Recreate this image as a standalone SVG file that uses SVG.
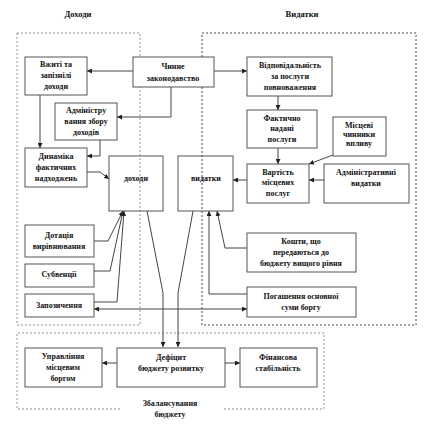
<svg xmlns="http://www.w3.org/2000/svg" width="428" height="427" viewBox="0 0 428 427">
<style>
.bg{fill:#fff}
.box{fill:#fff;stroke:#555;stroke-width:1}
.open{fill:none;stroke:#555;stroke-width:1}
.reg{fill:none;stroke:#888;stroke-width:0.9;stroke-dasharray:2,2}
.regd{fill:none;stroke:#333;stroke-width:0.9;stroke-dasharray:2,2}
.c{fill:none;stroke:#444;stroke-width:1}
text{font-family:"Liberation Serif","Times New Roman",serif;font-weight:bold;font-size:8px;fill:#111;text-anchor:middle}
.t{font-size:8.5px}
</style>
<defs>
<marker id="ah" viewBox="0 0 10 10" refX="10" refY="5" markerWidth="5" markerHeight="5" orient="auto" markerUnits="userSpaceOnUse">
<path d="M0,0 L10,5 L0,10 z" fill="#222"/>
</marker>
<marker id="as" viewBox="0 0 10 10" refX="0" refY="5" markerWidth="5" markerHeight="5" orient="auto" markerUnits="userSpaceOnUse">
<path d="M10,0 L0,5 L10,10 z" fill="#222"/>
</marker>
</defs>
<rect class="bg" x="0" y="0" width="428" height="427"/>
<g id="titles">
<text class="t" x="78" y="17">Доходи</text>
<text class="t" x="302" y="17">Видатки</text>
</g>
<g id="regions">
<rect class="reg" x="17" y="33" width="123" height="292"/>
<rect class="regd" x="202" y="33" width="214" height="292"/>
<path class="reg" d="M120,409 L17,409 L17,333 L324,333 L324,409 L223,409"/>
</g>
<g id="connectors">
<path class="c" d="M133,71 L87,71" marker-end="url(#ah)"/>
<path class="c" d="M214,71 L247,71" marker-end="url(#ah)"/>
<path class="c" d="M171,87 L171,117 L117,117" marker-end="url(#ah)"/>
<path class="c" d="M40,95 L40,148" marker-end="url(#ah)"/>
<path class="c" d="M100,140 L100,156 L87,156" marker-end="url(#ah)"/>
<path class="c" d="M87,172 L100,172 L109,179" marker-end="url(#ah)"/>
<path class="c" d="M278,96 L278,110" marker-end="url(#ah)"/>
<path class="c" d="M278,148 L278,164" marker-end="url(#ah)"/>
<path class="c" d="M333,155 L309,164" marker-end="url(#ah)"/>
<path class="c" d="M324,180 L309,180" marker-end="url(#ah)"/>
<path class="c" d="M247,180 L233,180" marker-end="url(#ah)"/>
<path class="c" d="M247,248 L225,248 L217,211" marker-end="url(#ah)"/>
<path class="c" d="M247,294 L209,294 L209,211" marker-end="url(#ah)"/>
<path class="c" d="M94,241 L108,241 L123,211" marker-end="url(#ah)"/>
<path class="c" d="M94,271 L110,271 L123,211" marker-end="url(#ah)"/>
<path class="c" d="M94,302 L117,302 L124,211" marker-end="url(#ah)"/>
<path class="c" d="M94,309 L247,309" marker-start="url(#as)" marker-end="url(#ah)"/>
<path class="c" d="M147,211 L163,293 L163,347" marker-end="url(#ah)"/>
<path class="c" d="M193,211 L178,293 L178,347" marker-end="url(#ah)"/>
<path class="c" d="M117,363 L102,363" marker-end="url(#ah)"/>
<path class="c" d="M225,363 L240,363" marker-end="url(#ah)"/>
</g>
<g id="n-chynne"><rect class="box" x="133" y="57" width="81" height="30"/><text x="173" y="69">Чинне</text><text x="173" y="81">законодавство</text></g>
<g id="n-vzhiti"><rect class="box" x="25" y="57" width="62" height="38"/><text x="56" y="67">Вжиті та</text><text x="56" y="78">запізнілі</text><text x="56" y="89">доходи</text></g>
<g id="n-admin"><rect class="box" x="55" y="103" width="62" height="37"/><text x="86" y="113">Адміністру</text><text x="86" y="124">вання збору</text><text x="86" y="135">доходів</text></g>
<g id="n-dynamika"><rect class="box" x="25" y="148" width="62" height="39"/><text x="56" y="159">Динаміка</text><text x="56" y="170">фактичних</text><text x="56" y="181">надходжень</text></g>
<g id="n-dokhody"><rect class="open" x="109" y="156" width="54" height="55"/><text x="136" y="181">доходи</text></g>
<g id="n-vydatky"><rect class="open" x="178" y="156" width="55" height="55"/><text x="206" y="181">видатки</text></g>
<g id="n-dotatsiia"><rect class="box" x="25" y="225" width="69" height="32"/><text x="59" y="238">Дотація</text><text x="59" y="249">вирівнювання</text></g>
<g id="n-subventsii"><rect class="box" x="25" y="264" width="69" height="23"/><text x="59" y="277">Субвенції</text></g>
<g id="n-zapozychennia"><rect class="box" x="25" y="294" width="69" height="23"/><text x="59" y="308">Запозичення</text></g>
<g id="n-vidpovidalnist"><rect class="box" x="247" y="57" width="85" height="39"/><text x="290" y="68">Відповідальність</text><text x="290" y="79">за послуги</text><text x="290" y="90">повноваження</text></g>
<g id="n-faktychno"><rect class="box" x="247" y="110" width="70" height="38"/><text x="282" y="121">Фактично</text><text x="282" y="131">надані</text><text x="282" y="142">послуги</text></g>
<g id="n-mistsevi"><rect class="box" x="333" y="117" width="53" height="39"/><text x="359" y="128">Місцеві</text><text x="359" y="137">чинники</text><text x="359" y="146">впливу</text></g>
<g id="n-vartist"><rect class="box" x="247" y="164" width="62" height="39"/><text x="278" y="175">Вартість</text><text x="278" y="185">місцевих</text><text x="278" y="196">послуг</text></g>
<g id="n-admvydatky"><rect class="box" x="324" y="164" width="85" height="39"/><text x="366" y="175">Адміністративні</text><text x="366" y="186">видатки</text></g>
<g id="n-koshty"><rect class="box" x="247" y="233" width="109" height="39"/><text x="301" y="244">Кошти, що</text><text x="301" y="255">передаються до</text><text x="301" y="266">бюджету вищого рівня</text></g>
<g id="n-pohashennia"><rect class="box" x="247" y="287" width="109" height="30"/><text x="301" y="299">Погашення основної</text><text x="301" y="310">суми боргу</text></g>
<g id="n-upravlinnia"><rect class="box" x="25" y="348" width="77" height="39"/><text x="63" y="359">Управління</text><text x="63" y="370">місцевим</text><text x="63" y="381">боргом</text></g>
<g id="n-defitsyt"><rect class="box" x="117" y="348" width="108" height="39"/><text x="171" y="360">Дефіцит</text><text x="171" y="371">бюджету розвитку</text></g>
<g id="n-finansova"><rect class="box" x="240" y="348" width="77" height="39"/><text x="278" y="360">Фінансова</text><text x="278" y="371">стабільність</text></g>
<g id="balance-label"><text x="170" y="406">Збалансування</text><text x="170" y="417">бюджету</text></g>
</svg>
